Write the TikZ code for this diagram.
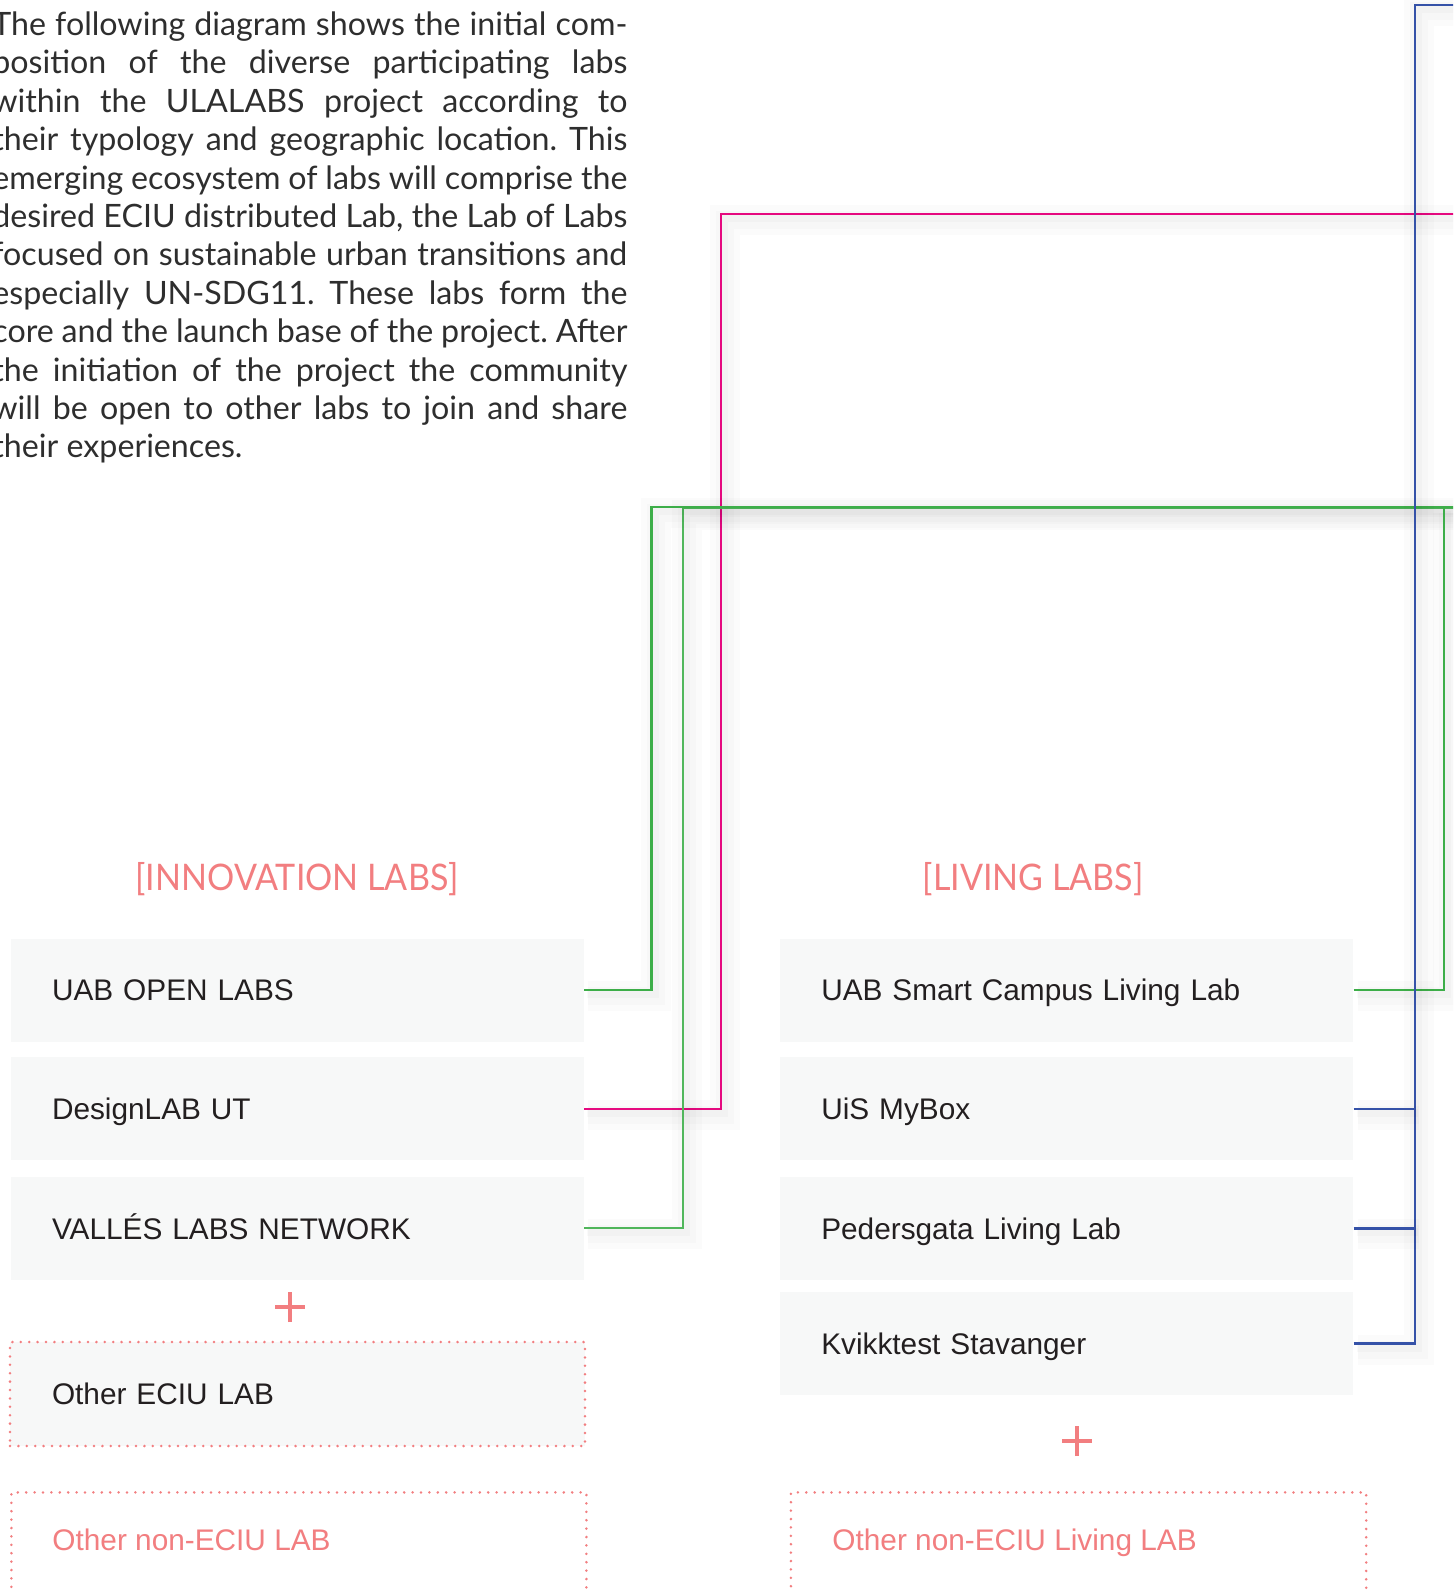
\documentclass[tikz,border=0pt]{standalone}
\usepackage{fontspec}
\setmainfont{Liberation Sans}
\newfontfamily\myriad{Lato}
\newfontfamily\myriadn[FakeStretch=0.93]{Lato}
\definecolor{boxgray}{RGB}{247,248,248}
\definecolor{salmon}{RGB}{242,126,128}
\definecolor{ink}{RGB}{35,31,32}
\definecolor{lgreen}{RGB}{61,174,73}
\definecolor{lmag}{RGB}{229,9,127}
\definecolor{lblue}{RGB}{53,82,168}
\newcommand{\parafont}{\myriad\fontsize{16.1}{19}\selectfont}
\newcommand{\labfont}{\fontsize{14.9}{18}\selectfont}
\newcommand{\headfont}{\myriadn\fontsize{18.3}{22}\selectfont}
\frenchspacing
\tikzset{
  labbox/.style={fill=boxgray, minimum width=286.75pt, minimum height=51.5pt,
    inner xsep=20.75pt, inner ysep=0pt, text width=245.25pt, align=left,
    text height=10.7pt, text depth=0pt, font=\labfont, text=ink},
  dotbox/.style={draw=salmon, line width=1.4pt, dash pattern=on 0pt off 4.2pt, line cap=round},
  paraline/.style={anchor=base west, inner sep=0pt, font=\parafont, text=black!82},
  head/.style={anchor=base, inner sep=0pt, font=\headfont, text=salmon},
  salmontext/.style={anchor=base west, inner sep=0pt, font=\labfont, text=salmon},
  glow/.style={
    preaction={draw=black, draw opacity=0.014, line width=15pt, transform canvas={xshift=2pt,yshift=-3pt}},
    preaction={draw=black, draw opacity=0.016, line width=9pt, transform canvas={xshift=2pt,yshift=-3pt}},
    preaction={draw=black, draw opacity=0.018, line width=4pt, transform canvas={xshift=1.5pt,yshift=-2pt}}},
  greenline/.style={draw=lgreen, line width=1.3pt},
  greenthin/.style={draw=lgreen!90!white, line width=0.85pt},
  magline/.style={draw=lmag, line width=1.1pt},
  blueline/.style={draw=lblue, line width=1.2pt},
  plusline/.style={draw=salmon, line width=1.6pt},
}
\begin{document}
\begin{tikzpicture}[x=0.5pt,y=-0.5pt]
\useasboundingbox (0,0) rectangle (1453,1591);
\clip (0,0) rectangle (1453,1591);
\fill[white] (0,0) rectangle (1453,1591);

% paragraph
\node[paraline] (p1) at (-8,35.5) {\makebox[317.5pt][s]{The following diagram shows the initial com-}};
\node[paraline] (p2) at (-8,73.9) {\makebox[317.5pt][s]{position of the diverse participating labs}};
\node[paraline] (p3) at (-8,112.3) {\makebox[317.5pt][s]{within the ULALABS project according to}};
\node[paraline] (p4) at (-8,150.7) {\makebox[317.5pt][s]{their typology and geographic location. This}};
\node[paraline] (p5) at (-8,189.1) {\makebox[317.5pt][s]{emerging ecosystem of labs will comprise the}};
\node[paraline] (p6) at (-8,227.5) {\makebox[317.5pt][s]{desired ECIU distributed Lab, the Lab of Labs}};
\node[paraline] (p7) at (-8,265.9) {\makebox[317.5pt][s]{focused on sustainable urban transitions and}};
\node[paraline] (p8) at (-8,304.3) {\makebox[317.5pt][s]{especially UN-SDG11. These labs form the}};
\node[paraline] (p9) at (-8,342.7) {\makebox[317.5pt][s]{core and the launch base of the project. After}};
\node[paraline] (p10) at (-8,381.1) {\makebox[317.5pt][s]{the initiation of the project the community}};
\node[paraline] (p11) at (-8,419.5) {\makebox[317.5pt][s]{will be open to other labs to join and share}};
\node[paraline] (p12) at (-8,457.9) {their experiences.};

% headings
\node[head] (hInno) at (297,890) {[INNOVATION LABS]};
\node[head] (hLiv) at (1033,890) {[LIVING LABS]};

% innovation labs
\node[labbox] (uab) at (297.25,990) {UAB OPEN LABS};
\node[labbox] (design) at (297.25,1108.7) {DesignLAB UT};
\node[labbox] (valles) at (297.25,1228.3) {VALLÉS LABS NETWORK};
\coordinate (plusL) at (290,1307);
\draw[plusline] ([xshift=-7.5pt]plusL) -- ([xshift=7.5pt]plusL);
\draw[plusline] ([yshift=-7.5pt]plusL) -- ([yshift=7.5pt]plusL);
\node[labbox, dotbox, fill=boxgray, minimum width=287.5pt, minimum height=52pt,
      inner xsep=21pt, text width=245.5pt] (eciu) at (297.5,1394) {Other ECIU LAB};
\node[dotbox, minimum width=287.5pt, minimum height=75pt, anchor=north west, inner sep=0pt] (nonL) at (10,1491) {};
\node[salmontext] (nonLt) at (52,1550) {Other non-ECIU LAB};

% living labs
\node[labbox] (smart) at (1066.5,990) {UAB Smart Campus Living Lab};
\node[labbox] (uis) at (1066.5,1108.7) {UiS MyBox};
\node[labbox] (peders) at (1066.5,1228.3) {Pedersgata Living Lab};
\node[labbox] (kvik) at (1066.5,1343.5) {Kvikktest Stavanger};
\coordinate (plusR) at (1077,1441);
\draw[plusline] ([xshift=-7.5pt]plusR) -- ([xshift=7.5pt]plusR);
\draw[plusline] ([yshift=-7.5pt]plusR) -- ([yshift=7.5pt]plusR);
\node[dotbox, minimum width=287.65pt, minimum height=75pt, anchor=north west, inner sep=0pt] (nonR) at (789.5,1491) {};
\node[salmontext] (nonRt) at (832,1550) {Other non-ECIU Living LAB};

% connector coordinates
\coordinate (mTop) at (720.7,214);
\coordinate (mEnd) at (1480,214);
\coordinate (gTopA) at (651.7,507);
\coordinate (gEndA) at (1480,507);
\coordinate (gTopB) at (683,508.5);
\coordinate (gEndB) at (1480,508.5);
\coordinate (gTopC) at (1444,507);
\coordinate (bTop) at (1414.7,5);
\coordinate (bEnd) at (1480,5);

% magenta
\draw[magline, glow] (design.east) -| (mTop) -- (mEnd);
% green
\draw[greenthin, glow] (valles.east) -| (gTopB) -- (gEndB);
\draw[greenline, glow] (uab.east) -| (gTopA) -- (gEndA);
\draw[greenline, glow] (smart.east) -| (gTopC);
% blue
\draw[blueline, glow] (kvik.east) -| (bTop) -- (bEnd);
\draw[blueline, glow] (uis.east) -- (uis.east -| bTop);
\draw[blueline, glow] (peders.east) -- (peders.east -| bTop);
\end{tikzpicture}
\end{document}
